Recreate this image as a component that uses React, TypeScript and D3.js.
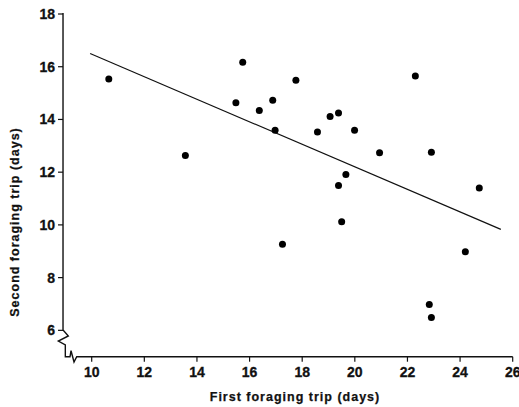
import React, { useEffect, useRef } from "react";
import * as d3 from "d3";

// first vs second foraging trip durations (days)
const firstTrip = [
  10.65, 13.56, 15.48, 15.74, 16.37, 16.88, 16.97, 17.25, 17.76, 18.58, 19.06, 19.38,
  19.38, 19.5, 19.66, 19.99, 20.94, 22.3, 22.83, 22.91, 22.91, 24.2, 24.73,
];
const secondTrip = [
  15.53, 12.63, 14.63, 16.17, 14.34, 14.73, 13.59, 9.27, 15.49, 13.52, 14.11, 14.24,
  11.49, 10.12, 11.91, 13.59, 12.74, 15.65, 6.98, 6.49, 12.76, 8.98, 11.4,
];
// fitted regression line ends
const fitX = [9.94, 25.55];
const fitY = [16.5, 9.83];

const xTicks = [10, 12, 14, 16, 18, 20, 22, 24, 26];
const yTicks = [6, 8, 10, 12, 14, 16, 18];

const App = () => {
  const svgRef = useRef<SVGSVGElement>(null);

  useEffect(() => {
    const svg = d3.select(svgRef.current);
    svg.selectAll("*").remove();
    const font = "'Liberation Sans', Arial, sans-serif";

    const x = d3.scaleLinear().domain([10, 26]).range([91.7, 512.7]);
    const y = d3.scaleLinear().domain([5, 18]).range([356.7, 14]);
    const x0 = x(8.91);
    const y0 = y(5);

    // y axis line with break at bottom
    const brk: [number, number][] = [
      [0, -26.7], [5.3, -20.7], [-4.7, -15.7], [2.3, -11.7], [2.3, 0],
      [7, 0], [8, -6], [11, 5.3], [13.7, 0],
    ];
    const pts: [number, number][] = [[x0, y(18) - 1]];
    brk.forEach(([dx, dy]) => pts.push([x0 + dx, y0 + dy]));
    pts.push([x(26), y0]);
    svg.append("path")
      .attr("d", d3.line()(pts))
      .attr("fill", "none")
      .attr("stroke", "#111")
      .attr("stroke-width", 1.4);

    // y ticks
    const gy = svg.append("g");
    yTicks.forEach((t) => {
      gy.append("line")
        .attr("x1", x0 - 5).attr("x2", x0)
        .attr("y1", y(t)).attr("y2", y(t))
        .attr("stroke", "#111").attr("stroke-width", 1.2);
      gy.append("text")
        .attr("x", x0 - 8).attr("y", y(t))
        .attr("dy", "0.36em")
        .attr("text-anchor", "end")
        .attr("font-family", font).attr("font-weight", "bold")
        .attr("font-size", 14).attr("fill", "#111")
        .attr("stroke", "#111").attr("stroke-width", 0.3)
        .text(t);
    });

    // x ticks
    const gx = svg.append("g");
    xTicks.forEach((t) => {
      gx.append("line")
        .attr("x1", x(t)).attr("x2", x(t))
        .attr("y1", y0).attr("y2", y0 + 5)
        .attr("stroke", "#111").attr("stroke-width", 1.2);
      gx.append("text")
        .attr("x", x(t)).attr("y", y0 + 20.5)
        .attr("text-anchor", "middle")
        .attr("font-family", font).attr("font-weight", "bold")
        .attr("font-size", 14).attr("fill", "#111")
        .attr("stroke", "#111").attr("stroke-width", 0.3)
        .text(t);
    });

    // axis titles
    svg.append("text")
      .attr("x", 295).attr("y", 401)
      .attr("text-anchor", "middle")
      .attr("font-family", font).attr("font-weight", "bold")
      .attr("font-size", 12.5).attr("letter-spacing", 1)
      .attr("fill", "#111")
      .attr("stroke", "#111").attr("stroke-width", 0.25)
      .text("First foraging trip (days)");
    svg.append("text")
      .attr("transform", `translate(19, 222) rotate(-90)`)
      .attr("text-anchor", "middle")
      .attr("font-family", font).attr("font-weight", "bold")
      .attr("font-size", 12.5).attr("letter-spacing", 1)
      .attr("fill", "#111")
      .attr("stroke", "#111").attr("stroke-width", 0.25)
      .text("Second foraging trip (days)");

    // regression line
    svg.append("line")
      .attr("x1", x(fitX[0])).attr("y1", y(fitY[0]))
      .attr("x2", x(fitX[1])).attr("y2", y(fitY[1]))
      .attr("stroke", "#111").attr("stroke-width", 1.2);

    // points
    svg.selectAll(".pt")
      .data(firstTrip)
      .enter()
      .append("circle")
      .attr("class", "pt")
      .attr("cx", (d) => x(d))
      .attr("cy", (d, i) => y(secondTrip[i]))
      .attr("r", 3.5)
      .attr("fill", "#000");
  }, []);

  return (
    <svg
      ref={svgRef}
      width={519}
      height={407}
      style={{ position: "absolute", left: 0, top: 0, background: "#fff" }}
    ></svg>
  );
};

export default App;
